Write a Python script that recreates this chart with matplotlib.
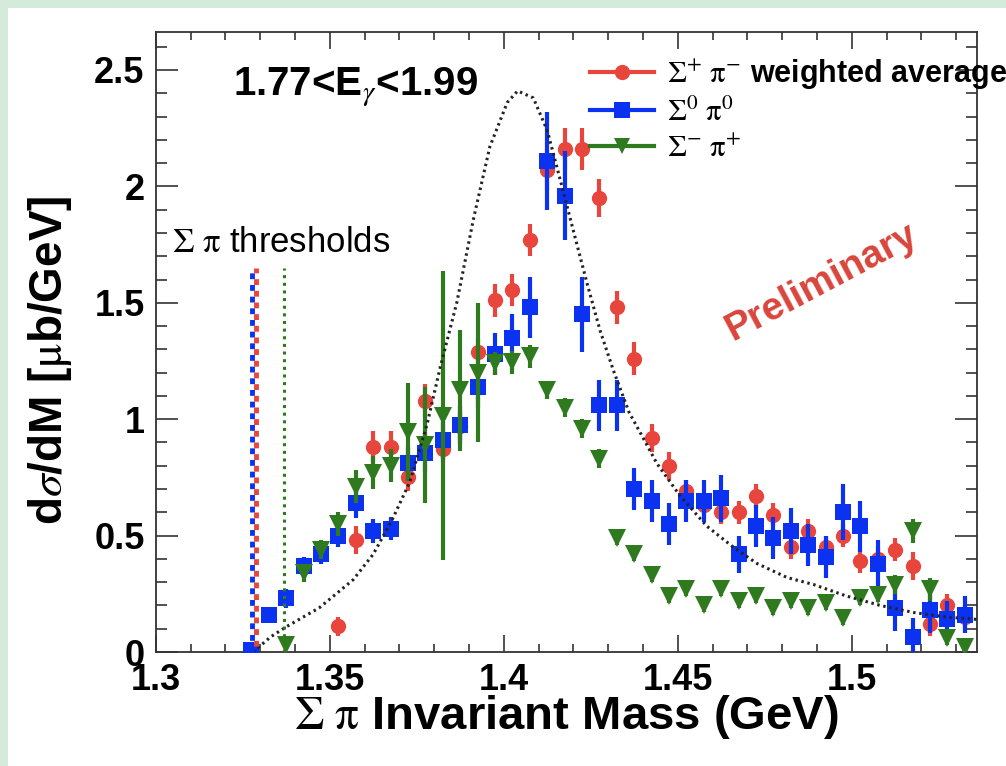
import matplotlib.pyplot as plt
from matplotlib.lines import Line2D
from matplotlib.patches import Rectangle
from matplotlib.ticker import FixedLocator, FixedFormatter, MultipleLocator

plt.rcParams['font.family'] = ['Liberation Sans', 'DejaVu Sans']
plt.rcParams['mathtext.fontset'] = 'stix'

# Sigma+ pi- weighted average
x_red = [1.3525, 1.3575, 1.3625, 1.3675, 1.3725, 1.3775, 1.3825, 1.3875, 1.3925, 1.3975,
         1.4025, 1.4075, 1.4125, 1.4175, 1.4225, 1.4275, 1.4325, 1.4375, 1.4425, 1.4475,
         1.4525, 1.4575, 1.4625, 1.4675, 1.4725, 1.4775, 1.4825, 1.4875, 1.4925, 1.4975,
         1.5025, 1.5075, 1.5125, 1.5175, 1.5225, 1.5275, 1.5325]
y_red = [0.11, 0.48, 0.88, 0.88, 0.75, 1.08, 0.87, 0.97, 1.29, 1.51,
         1.555, 1.77, 2.07, 2.16, 2.16, 1.95, 1.48, 1.26, 0.92, 0.80,
         0.69, 0.63, 0.60, 0.60, 0.67, 0.59, 0.45, 0.52, 0.45, 0.50,
         0.39, 0.40, 0.44, 0.37, 0.12, 0.20, 0.15]
e_red = [0.04, 0.06, 0.07, 0.07, 0.06, 0.07, 0.06, 0.06, 0.06, 0.07,
         0.07, 0.07, 0.09, 0.09, 0.09, 0.08, 0.07, 0.07, 0.06, 0.06,
         0.05, 0.05, 0.05, 0.05, 0.05, 0.05, 0.05, 0.05, 0.05, 0.05,
         0.05, 0.05, 0.05, 0.06, 0.05, 0.05, 0.05]

# Sigma0 pi0
x_blue = [1.3275, 1.3325, 1.3375, 1.3425, 1.3475, 1.3525, 1.3575, 1.3625, 1.3675, 1.3725,
          1.3775, 1.3825, 1.3875, 1.3925, 1.3975, 1.4025, 1.4075, 1.4125, 1.4175, 1.4225,
          1.4275, 1.4325, 1.4375, 1.4425, 1.4475, 1.4525, 1.4575, 1.4625, 1.4675, 1.4725,
          1.4775, 1.4825, 1.4875, 1.4925, 1.4975, 1.5025, 1.5075, 1.5125, 1.5175, 1.5225,
          1.5275, 1.5325]
y_blue = [0.01, 0.16, 0.23, 0.37, 0.42, 0.50, 0.64, 0.52, 0.53, 0.81,
          0.855, 0.91, 0.975, 1.14, 1.28, 1.35, 1.48, 2.11, 1.96, 1.45,
          1.06, 1.06, 0.70, 0.65, 0.55, 0.65, 0.65, 0.66, 0.42, 0.54,
          0.49, 0.52, 0.46, 0.41, 0.60, 0.54, 0.38, 0.19, 0.065, 0.18,
          0.14, 0.16]
e_blue = [0.03, 0.03, 0.04, 0.04, 0.04, 0.05, 0.065, 0.05, 0.05, 0.07,
          0.08, 0.08, 0.08, 0.09, 0.09, 0.10, 0.13, 0.21, 0.19, 0.16,
          0.11, 0.11, 0.09, 0.09, 0.09, 0.09, 0.09, 0.10, 0.08, 0.09,
          0.09, 0.10, 0.09, 0.09, 0.12, 0.11, 0.10, 0.10, 0.08, 0.10,
          0.08, 0.08]

# Sigma- pi+
x_green = [1.3375, 1.3425, 1.3475, 1.3525, 1.3575, 1.3625, 1.3675, 1.3725, 1.3775, 1.3825,
           1.3875, 1.3925, 1.3975, 1.4025, 1.4075, 1.4125, 1.4175, 1.4225, 1.4275, 1.4325,
           1.4375, 1.4425, 1.4475, 1.4525, 1.4575, 1.4625, 1.4675, 1.4725, 1.4775, 1.4825,
           1.4875, 1.4925, 1.4975, 1.5025, 1.5075, 1.5125, 1.5175, 1.5225, 1.5275, 1.5325]
y_green = [0.03, 0.34, 0.44, 0.55, 0.71, 0.77, 0.80, 0.945, 0.89, 1.015,
           1.125, 1.20, 1.24, 1.245, 1.27, 1.125, 1.05, 0.96, 0.83, 0.49,
           0.42, 0.33, 0.24, 0.27, 0.20, 0.27, 0.22, 0.24, 0.19, 0.22,
           0.19, 0.21, 0.145, 0.23, 0.245, 0.29, 0.52, 0.27, 0.06, 0.02]
e_green = [0.02, 0.04, 0.04, 0.05, 0.07, 0.07, 0.07, 0.21, 0.25, 0.62,
           0.26, 0.30, 0.05, 0.05, 0.05, 0.04, 0.04, 0.04, 0.04, 0.03,
           0.03, 0.03, 0.03, 0.03, 0.03, 0.03, 0.03, 0.03, 0.03, 0.03,
           0.03, 0.03, 0.03, 0.03, 0.03, 0.04, 0.05, 0.05, 0.03, 0.03]

# dotted curve
x_curve = [1.3280, 1.3330, 1.3377, 1.3470, 1.3567, 1.3625, 1.3680, 1.3730, 1.3780, 1.3817,
           1.3865, 1.3913, 1.3960, 1.4010, 1.4040, 1.4085, 1.4125, 1.4162, 1.4200, 1.4240,
           1.4277, 1.4315, 1.4360, 1.4393, 1.4440, 1.4507, 1.4584, 1.4660, 1.4728, 1.4814,
           1.4890, 1.4986, 1.5082, 1.5177, 1.5273, 1.5360]
y_curve = [0.0, 0.065, 0.11, 0.19, 0.31, 0.42, 0.57, 0.73, 0.98, 1.22,
           1.50, 1.86, 2.17, 2.36, 2.41, 2.38, 2.24, 2.03, 1.81, 1.58,
           1.38, 1.21, 1.03, 0.94, 0.81, 0.67, 0.54, 0.45, 0.38, 0.32,
           0.29, 0.24, 0.20, 0.17, 0.15, 0.14]

# thresholds
thr_sig0pi0 = 1.3277
thr_sigppim = 1.3287
thr_sigmpip = 1.3369
thr_height = 1.65

xtick_vals = [1.3, 1.35, 1.4, 1.45, 1.5]
xtick_labels = ['1.3', '1.35', '1.4', '1.45', '1.5']
ytick_vals = [0, 0.5, 1, 1.5, 2, 2.5]
ytick_labels = ['0', '0.5', '1', '1.5', '2', '2.5']

red = '#e8453c'
blue = '#0a32f0'
green = '#2f7a1f'

fig = plt.figure(figsize=(10.06, 7.66), dpi=100, facecolor='#d4eadb')
fig.patches.append(Rectangle((8 / 1006, 0), 1, 1 - 8 / 766, transform=fig.transFigure,
                             facecolor='white', edgecolor='none', zorder=-1))
ax = fig.add_axes([0.1548, 0.1488, 0.8164, 0.8094])

ax.errorbar(x_red, y_red, yerr=e_red, fmt='o', color=red, ms=11, mew=0,
            elinewidth=3, capsize=0, zorder=3)
ax.errorbar(x_blue, y_blue, yerr=e_blue, fmt='s', color=blue, ms=11, mew=0,
            elinewidth=3, capsize=0, zorder=4)
ax.errorbar(x_green, y_green, yerr=e_green, fmt='v', color=green, ms=13, mew=0,
            elinewidth=3, capsize=0, zorder=5)

ax.plot(x_curve, y_curve, color='#222222', lw=2.2, linestyle=(0, (0.8, 1.2)), zorder=6)

ax.plot([thr_sig0pi0, thr_sig0pi0], [0, thr_height], color=blue, lw=3.5,
        linestyle=(0, (1.2, 1.2)), zorder=6)
ax.plot([thr_sigppim, thr_sigppim], [0, thr_height], color=red, lw=3.5,
        linestyle=(1.2, (1.2, 1.2)), zorder=6)
ax.plot([thr_sigmpip, thr_sigmpip], [0, thr_height], color=green, lw=2.2,
        linestyle=(0, (1, 1.5)), zorder=6)

ax.set_xlim(1.3, 1.536)
ax.set_ylim(0, 2.663)
ax.xaxis.set_major_locator(FixedLocator(xtick_vals))
ax.xaxis.set_major_formatter(FixedFormatter(xtick_labels))
ax.yaxis.set_major_locator(FixedLocator(ytick_vals))
ax.yaxis.set_major_formatter(FixedFormatter(ytick_labels))
ax.xaxis.set_minor_locator(MultipleLocator(0.01))
ax.yaxis.set_minor_locator(MultipleLocator(0.1))

ax.tick_params(axis='both', which='both', direction='in', top=True, right=True,
               color='#333333', width=1.2)
ax.tick_params(axis='y', which='major', length=16, pad=8)
ax.tick_params(axis='y', which='minor', length=8)
ax.tick_params(axis='x', which='major', length=12, pad=8)
ax.tick_params(axis='x', which='minor', length=6)
for lab in ax.get_xticklabels() + ax.get_yticklabels():
    lab.set_fontsize(26)
    lab.set_fontweight('bold')
for sp in ax.spines.values():
    sp.set_color('#333333')
    sp.set_linewidth(1.3)

ax.set_xlabel(r'$\Sigma\ \mathrm{\pi}$ Invariant Mass (GeV)', fontsize=34, fontweight='bold')
ax.xaxis.set_label_coords(0.5, -0.066)
ax.set_ylabel(r'd$\sigma$/dM [$\mathrm{\mu}$b/GeV]', fontsize=33, fontweight='bold')
ax.yaxis.set_label_coords(-0.100, 0.47)

ax.text(0.094, 0.911, r'1.77<E$_{\gamma}$<1.99', transform=ax.transAxes,
        fontsize=29, fontweight='bold', va='center', ha='left')
ax.text(0.0199, 0.661, r'$\Sigma\ \mathrm{\pi}$ thresholds', transform=ax.transAxes,
        fontsize=25, va='center', ha='left')
ax.text(0.811, 0.597, 'Preliminary', transform=ax.transAxes, fontsize=28,
        fontweight='bold', color='#d9453c', rotation=28, ha='center', va='center')

handles = [Line2D([], [], color=red, lw=3, marker='o', ms=11, mew=0),
           Line2D([], [], color=blue, lw=3, marker='s', ms=11, mew=0),
           Line2D([], [], color=green, lw=3, marker='v', ms=12, mew=0)]
labels = [r'$\Sigma^{+}\ \mathrm{\pi}^{-}$ weighted average',
          r'$\Sigma^{0}\ \mathrm{\pi}^{0}$',
          r'$\Sigma^{-}\ \mathrm{\pi}^{+}$']
leg = ax.legend(handles, labels, loc='upper left', bbox_to_anchor=(0.529, 0.9585),
                frameon=False, fontsize=22, handlelength=2.1, handletextpad=0.4,
                labelspacing=0.2, borderaxespad=0, borderpad=0)
for t in leg.get_texts():
    t.set_fontweight('bold')

fig.savefig('out.png', dpi=100, facecolor=fig.get_facecolor())
